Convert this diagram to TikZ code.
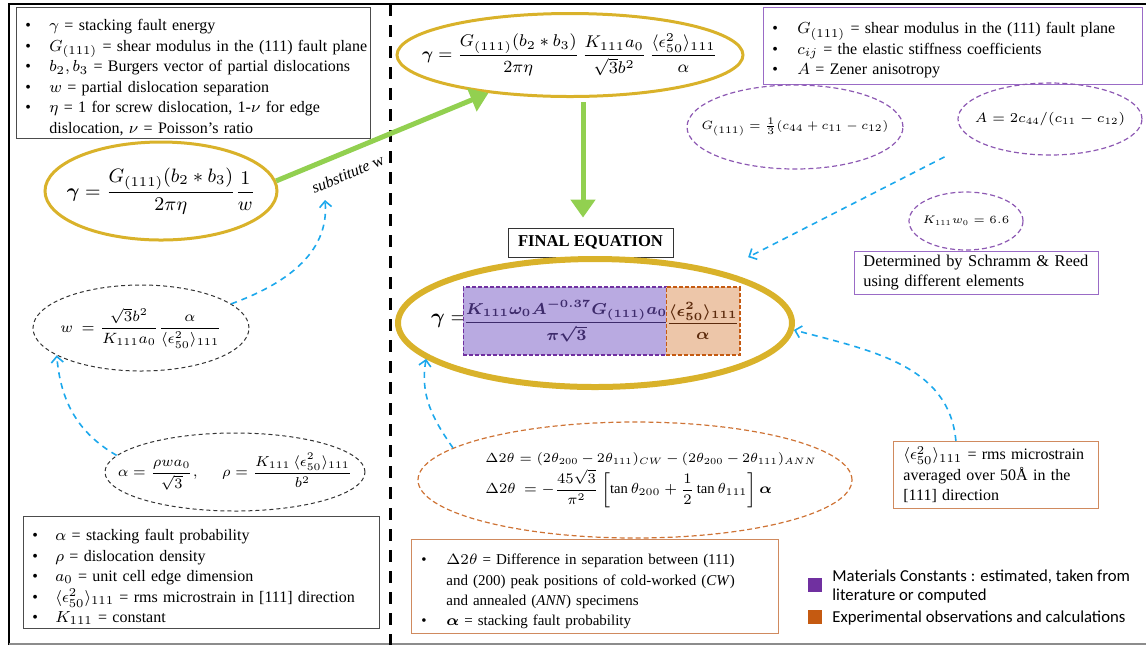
\RequirePackage{fix-cm}
\documentclass[tikz,border=0pt]{standalone}
\usepackage{amsmath}
\usepackage{bm}
\usepackage{fontspec}
\setmainfont{Liberation Serif}
\newfontfamily\legendfont{Carlito}
\usetikzlibrary{arrows.meta,shapes.geometric,positioning}

\definecolor{ringgold}{HTML}{D9B22A}
\definecolor{subgreen}{HTML}{92D050}
\definecolor{hintblue}{HTML}{1CA8EC}
\definecolor{matpurple}{HTML}{7030A0}
\definecolor{matfill}{HTML}{B9AAE1}
\definecolor{matink}{HTML}{3D2A6B}
\definecolor{expbrown}{HTML}{C55A11}
\definecolor{expfill}{HTML}{EDC6A9}
\definecolor{expink}{HTML}{5C2A0C}
\definecolor{expedge}{HTML}{D08A5E}
\definecolor{boxpurple}{HTML}{9A6BC6}

\newcommand{\bitem}[2][12pt]{\par\rightskip=0pt plus 1fil minus 15pt\noindent\makebox[#1][l]{\textbullet}#2}
\newcommand{\bcont}[2][12pt]{\par\rightskip=0pt plus 1fil minus 15pt\noindent\hspace*{#1}#2}
\newcommand{\strainsq}{\langle\epsilon^2_{50}\rangle_{111}}

\begin{document}
\begin{tikzpicture}[x=0.5pt, y=-0.5pt,
  every node/.style={font=\fontsize{8}{10.25}\selectfont},
  infobox/.style={draw=black!70, fill=white, anchor=north west, align=left, inner xsep=4.5pt, inner ysep=2pt},
  goldring/.style={ellipse, draw=ringgold, line width=1.5pt, inner sep=0pt},
  bigring/.style={ellipse, draw=ringgold, line width=3pt, inner sep=0pt},
  blackring/.style={ellipse, draw=black!80, dash pattern=on 2pt off 1.5pt, line width=0.5pt, inner sep=0pt},
  purplering/.style={ellipse, draw=matpurple!80, dash pattern=on 2.5pt off 1.5pt, line width=0.6pt, inner sep=0pt},
  orangering/.style={ellipse, draw=expbrown!85, dash pattern=on 2.5pt off 1.5pt, line width=0.6pt, inner sep=0pt},
  eq/.style={font=\fontsize{9.7}{12}\selectfont},
  smalleq/.style={font=\fontsize{7.45}{10}\selectfont},
  matbox/.style={draw=matpurple, fill=matfill, dash pattern=on 2pt off 1pt, line width=0.7pt, inner sep=0pt, text=matink, font=\fontsize{7.9}{11}\selectfont\boldmath},
  expbox/.style={draw=expbrown, fill=expfill, dash pattern=on 2pt off 1pt, line width=0.7pt, inner sep=0pt, text=expink, font=\fontsize{7.9}{11}\selectfont\boldmath},
  titlebox/.style={draw=black!80, font=\fontsize{8.3}{10}\selectfont\bfseries, minimum width=82.5pt, minimum height=14.5pt, inner sep=0pt},
  subarrow/.style={-{Triangle[length=9pt,width=12pt]}, draw=subgreen, line width=2.5pt},
  hint/.style={-{Straight Barb[length=3pt,width=6pt]}, draw=hintblue, line width=0.8pt, dash pattern=on 3pt off 2.5pt},
  swatch/.style={minimum size=7pt, inner sep=0pt},
  legendtext/.style={font=\legendfont\fontsize{8.35}{9.7}\selectfont, align=left, anchor=north west, inner sep=0pt},
]
\useasboundingbox (0,0) rectangle (1146,645);

% frame and divider
\draw[line width=1pt] (9,645) -- (9,4) -- (1146,4);
\draw[black!45, line width=1pt] (9,644) -- (1146,644);
\draw[line width=1.5pt, dash pattern=on 6pt off 4.5pt] (390,4) -- (390,645);

% left half
\node[infobox, text width=168pt, inner ysep=1.5pt] (symbols) at (16,7) {%
\bitem{$\gamma$ = stacking fault energy}
\bitem{$G_{(111)}$ = shear modulus in the (111) fault plane}
\bitem{$b_2, b_3$ = Burgers vector of partial dislocations}
\bitem{$w$ = partial dislocation separation}
\bitem{$\eta$ = 1 for screw dislocation, 1-$\nu$ for edge}
\bcont{dislocation, $\nu$ = Poisson's ratio}};

\node[goldring, minimum width=116pt, minimum height=49pt,
  label={[eq]center:{$\bm{\gamma} = \dfrac{G_{(111)}(b_2 * b_3)}{2\pi\eta}\dfrac{1}{w}$}}] (leftring) at (161,191) {};

\node[blackring, minimum width=108pt, minimum height=43pt,
  label={[smalleq]center:{$w\ = \dfrac{\sqrt{3}b^2}{K_{111}a_0}\dfrac{\alpha}{\strainsq}$}}] (wring) at (141,328) {};

\node[blackring, minimum width=130pt, minimum height=39pt,
  label={[font=\fontsize{7.2}{10}\selectfont]center:{$\alpha = \dfrac{\rho w a_0}{\sqrt{3}},\quad\ \ \rho = \dfrac{K_{111}\,\strainsq}{b^2}$}}] (alpharing) at (235,472) {};

\node[infobox, text width=169pt, inner ysep=1.9pt] (alphabox) at (23,516) {%
\bitem[11.5pt]{$\alpha$ = stacking fault probability}
\bitem[11.5pt]{$\rho$ = dislocation density}
\bitem[11.5pt]{$a_0$ = unit cell edge dimension}
\bitem[11.5pt]{$\strainsq$ = rms microstrain in [111] direction}
\bitem[11.5pt]{$K_{111}$ = constant}};

\coordinate (subtip) at (325,200);

% right half
\node[goldring, minimum width=173pt, minimum height=41.5pt,
  label={[font=\fontsize{8.5}{11}\selectfont]center:{$\bm{\gamma} = \dfrac{G_{(111)}(b_2 * b_3)}{2\pi\eta}\,\dfrac{K_{111}a_0}{\sqrt{3}b^2}\,\dfrac{\strainsq}{\alpha}$}}] (topring) at (570,55) {};

\node[infobox, draw=boxpurple, text width=180.5pt, inner ysep=2.9pt] (modulusbox) at (763,7) {%
\bitem[12.5pt]{$G_{(111)}$ = shear modulus in the (111) fault plane}
\bitem[12.5pt]{$c_{ij}$ = the elastic stiffness coefficients}
\bitem[12.5pt]{$A$ = Zener anisotropy}};

\node[purplering, minimum width=108pt, minimum height=42pt,
  label={[font=\fontsize{6}{8}\selectfont]center:{$G_{(111)} = \tfrac{1}{3}(c_{44}+c_{11}-c_{12})$}}] (gring) at (795,127) {};
\node[purplering, minimum width=92pt, minimum height=36pt,
  label={[font=\fontsize{6.8}{9}\selectfont]center:{$A = 2c_{44}/(c_{11}-c_{12})$}}] (aring) at (1050,119) {};
\node[purplering, minimum width=57pt, minimum height=29pt,
  label={[font=\fontsize{5.5}{7}\selectfont]center:{$K_{111}w_0 = 6.6$}}] (kring) at (966,221) {};

\node[infobox, draw=boxpurple, text width=113pt, inner xsep=4.5pt, inner ysep=2pt, font=\fontsize{8.2}{10}\selectfont] (schrammbox) at (854,251) {%
\mbox{Determined by Schramm \& Reed}\\using different elements};

\node[titlebox] (finaltitle) at (590.5,242.5) {FINAL EQUATION};

\node[bigring, minimum width=197pt, minimum height=64pt] (finalring) at (595,323) {};
\node[font=\fontsize{10.5}{13}\selectfont] (finalgamma) at (449,321) {$\bm{\gamma} =$};
\node[matbox, minimum width=97.5pt, minimum height=34pt] (matpart) at (566.5,321) {$\dfrac{K_{111}\omega_0A^{-0.37}G_{(111)}a_0}{\pi\sqrt{3}}$};
\node[expbox, minimum width=36pt, minimum height=34pt] (exppart) at (703,321) {$\dfrac{\strainsq}{\alpha}$};

\node[orangering, minimum width=217pt, minimum height=58pt,
  label={[align=left, xshift=8pt]center:{%
  \fontsize{6.6}{9}\selectfont\medmuskip=3mu$\Delta 2\theta = (2\theta_{200}-2\theta_{111})_{CW} - (2\theta_{200}-2\theta_{111})_{ANN}$\\[1pt]
  \fontsize{7.3}{9}\selectfont$\Delta 2\theta\ = -\dfrac{45\sqrt{3}}{\pi^2}\left[\tan\theta_{200}+\dfrac{1}{2}\tan\theta_{111}\right]\bm{\alpha}$}}] (deltaring) at (635,480) {};

\node[infobox, draw=expedge, text width=173.5pt, inner xsep=5pt, inner ysep=2.5pt, font=\fontsize{7.5}{10.15}\selectfont] (deltabox) at (411,539) {%
\bitem[12.5pt]{$\Delta 2\theta$ = Difference in separation between (111)}
\bcont[12.5pt]{and (200) peak positions of cold-worked (\textit{CW})}
\bcont[12.5pt]{and annealed (\textit{ANN}) specimens}
\bitem[12.5pt]{$\bm{\alpha}$ = stacking fault probability}};

\node[infobox, draw=expedge, text width=92.5pt, inner xsep=5pt, inner ysep=2.5pt] (rmsbox) at (893,441) {%
$\strainsq$ = rms microstrain\\averaged over 50Å in the\\{}[111] direction};

% legend
\node[swatch, fill=matpurple] (matswatch) at (815,585) {};
\node[swatch, fill=expbrown] (expswatch) at (815,617) {};
\node[legendtext] (matlegend) at (832,569) {Materials Constants : estimated, taken from\\literature or computed};
\node[legendtext, anchor=west] (explegend) at (832,618) {Experimental observations and calculations};

% connectors
\draw[subarrow] (leftring.5) -- (topring.205) node[sloped, below=3pt, pos=0.3, font=\fontsize{8}{10}\selectfont] (subst) {\textit{substitute} w};
\draw[subarrow] ([xshift=6.5pt,yshift=-2pt]topring.south) -- ([xshift=-3.75pt,yshift=5pt]finaltitle.north);

\draw[hint] (wring.15) to[out=20, in=-85] (subtip);
\draw[hint] (alpharing.172) to[out=150, in=-85] (wring.198);
\draw[hint] (deltaring.170) to[out=125, in=-100] (finalring.192);
\draw[hint] ([xshift=-20pt,yshift=-6pt]aring.south west) -- ([xshift=-1.5pt,yshift=12pt]finalring.15);
\draw[hint] ([xshift=-20pt]rmsbox.north) to[out=95, in=-15] (finalring.-2);

\end{tikzpicture}
\end{document}
